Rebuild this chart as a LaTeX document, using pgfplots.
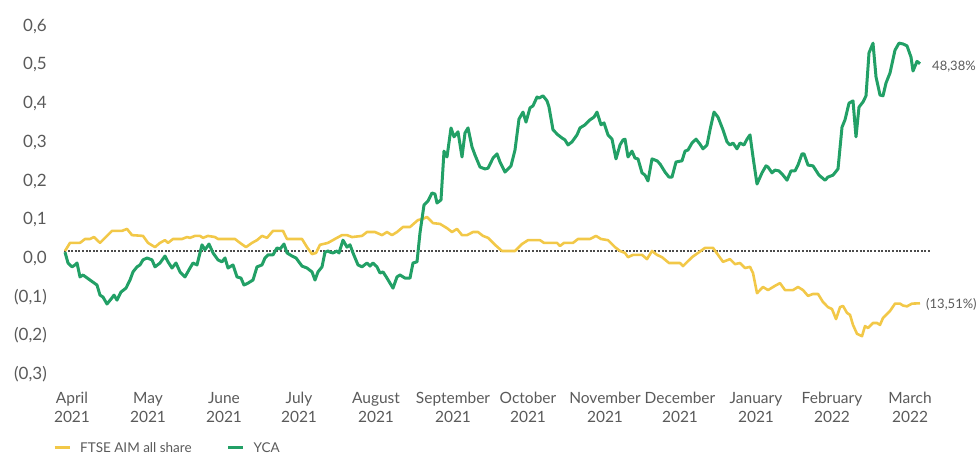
\documentclass[border=0pt]{standalone}
\usepackage{fontspec}
\setmainfont{Lato}
\usepackage{pgfplots}
\pgfplotsset{compat=1.18}
\definecolor{ycagreen}{RGB}{34,160,102}
\definecolor{ftseyellow}{RGB}{242,200,72}
\definecolor{txtgray}{RGB}{90,90,90}
\definecolor{dotgray}{RGB}{75,75,75}
\begin{document}
\begin{tikzpicture}
\begin{axis}[
  at={(60pt,79.16pt)}, anchor=south west,
  x=1pt, y=387pt,
  xmin=60, xmax=935, ymin=-0.32, ymax=0.62,
  clip=false,
  axis line style={draw=none},
  major tick length=0pt,
  xtick={72,148,224,299,376,453,528,605,680,756,832,910},
  xticklabels={{April\\2021},{May\\2021},{June\\2021},{July\\2021},{August\\2021},{September\\2021},{October\\2021},{November\\2021},{December\\2021},{January\\2021},{February\\2022},{March\\2022}},
  xticklabel style={anchor=north, inner sep=0pt, yshift=-17pt, align=center, font=\fontsize{15.5}{19.4}\selectfont, text=txtgray},
  ytick={-0.3,-0.2,-0.1,0,0.1,0.2,0.3,0.4,0.5,0.6},
  yticklabels={{(0,3)},{(0,2)},{(0,1)},{0,0},{0,1},{0,2},{0,3},{0,4},{0,5},{0,6}},
  yticklabel style={anchor=base east, inner sep=0pt, xshift=-13pt, yshift=-12.5pt, font=\fontsize{17}{20}\selectfont, text=txtgray},
  legend columns=2,
  legend style={draw=none, fill=none, at={(-0.008,-0.201)}, anchor=west, inner sep=0pt,
    font=\fontsize{13.5}{16}\selectfont, text=txtgray,
    nodes={inner sep=0pt},
    column sep=9pt,
    /tikz/every even column/.append style={column sep=35pt}},
  legend image code/.code={\draw[#1, line width=3pt] (0pt,0pt) -- (15pt,0pt);},
]
\addplot[dotgray, line width=2.2pt, dash pattern=on 2pt off 1.6pt, forget plot] coordinates {(64,0) (931,0)};

\addplot[ftseyellow, line width=2.6pt, line join=round] coordinates {
(65,0)(70,0.021)(80,0.021)(85,0.031)(90,0.031)(94,0.036)(100,0.021)(105,0.034)(112,0.052)(122,0.052)(127,0.057)(132,0.041)(143,0.039)(148,0.021)(155,0.010)(160,0.021)(165,0.028)(168,0.021)(173,0.031)(182,0.031)(187,0.036)(190,0.034)(195,0.039)(200,0.039)(203,0.034)(208,0.039)(215,0.036)(218,0.031)(235,0.031)(240,0.021)(246,0.010)(252,0.021)(257,0.028)(262,0.039)(267,0.034)(273,0.052)(283,0.052)(287,0.031)(302,0.031)(307,0.010)(312,-0.008)(316,-0.005)(320,0.016)(328,0.021)(337,0.034)(342,0.041)(347,0.041)(352,0.036)(362,0.039)(367,0.049)(375,0.049)(382,0.041)(387,0.049)(392,0.041)(397,0.049)(403,0.062)(410,0.062)(418,0.080)(423,0.083)(427,0.088)(433,0.072)(440,0.070)(447,0.059)(452,0.049)(457,0.057)(462,0.041)(467,0.041)(473,0.049)(478,0.049)(483,0.039)(488,0.034)(495,0.016)(502,0)(515,0)(522,0.018)(528,0.028)(540,0.028)(544,0.021)(557,0.021)(560,0.013)(564,0.021)(573,0.021)(578,0.031)(590,0.031)(596,0.039)(601,0.031)(608,0.028)(615,0.010)(620,0)(625,-0.005)(628,-0.016)(633,-0.010)(642,-0.010)(647,-0.021)(652,0)(657,-0.010)(662,-0.016)(669,-0.031)(680,-0.031)(683,-0.039)(692,-0.016)(698,-0.005)(705,0.008)(713,0.008)(718,-0.010)(723,-0.028)(730,-0.021)(735,-0.034)(740,-0.031)(745,-0.044)(750,-0.041)(753,-0.057)(757,-0.109)(763,-0.093)(768,-0.101)(775,-0.090)(780,-0.083)(785,-0.101)(793,-0.101)(798,-0.093)(803,-0.101)(808,-0.116)(813,-0.111)(818,-0.111)(823,-0.132)(828,-0.145)(832,-0.150)(836,-0.176)(840,-0.145)(843,-0.142)(847,-0.160)(850,-0.165)(853,-0.191)(857,-0.214)(862,-0.220)(865,-0.194)(868,-0.199)(873,-0.186)(877,-0.186)(880,-0.191)(883,-0.173)(890,-0.155)(895,-0.136)(900,-0.136)(903,-0.141)(907,-0.143)(912,-0.136)(920,-0.1351)
};
\addlegendentry{FTSE AIM all share}

\addplot[ycagreen, line width=3pt, line join=round] coordinates {
(65,-0.003)(68,-0.031)(72,-0.041)(75,-0.036)(77,-0.031)(80,-0.067)(83,-0.062)(90,-0.075)(97,-0.088)(100,-0.114)(103,-0.119)(107,-0.137)(112,-0.121)(114,-0.114)(117,-0.127)(121,-0.106)(126,-0.096)(130,-0.075)(133,-0.054)(137,-0.041)(140,-0.036)(143,-0.023)(147,-0.018)(152,-0.023)(155,-0.041)(160,-0.031)(165,-0.013)(168,-0.028)(172,-0.044)(176,-0.031)(180,-0.054)(185,-0.067)(190,-0.044)(193,-0.031)(197,-0.036)(202,0.016)(205,0.003)(209,0.018)(213,-0.005)(218,-0.023)(222,-0.028)(225,-0.018)(228,-0.044)(233,-0.036)(237,-0.067)(241,-0.070)(244,-0.088)(248,-0.083)(253,-0.075)(257,-0.041)(262,-0.036)(265,-0.018)(268,-0.010)(273,-0.010)(277,0.008)(280,0.005)(284,0.018)(287,-0.005)(292,-0.013)(296,-0.018)(302,-0.039)(307,-0.044)(312,-0.054)(315,-0.075)(318,-0.054)(322,-0.041)(325,-0.003)(328,0.000)(330,-0.003)(333,-0.005)(337,0.000)(339,-0.005)(343,0.028)(347,0.010)(350,0.016)(353,-0.005)(358,-0.036)(362,-0.041)(367,-0.031)(370,-0.039)(373,-0.031)(377,-0.041)(380,-0.057)(383,-0.054)(387,-0.070)(393,-0.096)(397,-0.067)(400,-0.062)(405,-0.070)(410,-0.070)(413,-0.031)(417,-0.028)(420,0.047)(424,0.119)(428,0.129)(432,0.150)(435,0.147)(437,0.124)(441,0.132)(444,0.258)(447,0.243)(451,0.318)(454,0.295)(458,0.308)(462,0.243)(465,0.305)(468,0.318)(472,0.269)(475,0.248)(480,0.217)(485,0.212)(488,0.214)(493,0.240)(497,0.251)(500,0.230)(505,0.204)(511,0.220)(515,0.261)(519,0.341)(523,0.359)(526,0.333)(530,0.370)(533,0.375)(537,0.398)(539,0.395)(543,0.401)(547,0.388)(549,0.372)(553,0.313)(558,0.300)(562,0.292)(565,0.287)(568,0.274)(572,0.282)(577,0.300)(580,0.318)(585,0.326)(590,0.339)(594,0.346)(597,0.359)(601,0.326)(604,0.331)(608,0.300)(612,0.289)(616,0.238)(620,0.274)(623,0.287)(625,0.289)(628,0.243)(632,0.258)(635,0.240)(638,0.238)(642,0.202)(645,0.196)(648,0.181)(652,0.238)(657,0.233)(660,0.225)(665,0.204)(669,0.191)(672,0.191)(676,0.230)(682,0.233)(685,0.258)(688,0.261)(692,0.279)(696,0.289)(700,0.276)(703,0.264)(707,0.274)(710,0.313)(714,0.359)(718,0.346)(723,0.313)(727,0.282)(730,0.274)(733,0.279)(737,0.264)(740,0.279)(744,0.274)(747,0.289)(750,0.300)(753,0.243)(757,0.173)(762,0.202)(766,0.220)(768,0.217)(772,0.202)(775,0.209)(779,0.207)(783,0.196)(787,0.183)(791,0.207)(795,0.207)(798,0.222)(802,0.251)(804,0.251)(808,0.222)(813,0.220)(819,0.196)(825,0.183)(828,0.191)(833,0.196)(838,0.212)(842,0.320)(845,0.339)(849,0.382)(853,0.388)(856,0.295)(859,0.372)(863,0.385)(866,0.401)(869,0.512)(873,0.537)(876,0.450)(880,0.403)(883,0.401)(886,0.434)(890,0.460)(895,0.519)(899,0.537)(903,0.535)(907,0.530)(911,0.501)(913,0.465)(917,0.490)(920,0.4838)
};
\addlegendentry{YCA}

\node[anchor=west, inner sep=0pt, xshift=12pt, yshift=-2.5pt, font=\fontsize{13}{15}\selectfont, text=txtgray] at (axis cs:920,0.4838) {48,38\%};
\node[anchor=west, inner sep=0pt, xshift=6pt, yshift=-1.5pt, font=\fontsize{13}{15}\selectfont, text=txtgray] at (axis cs:920,-0.1351) {(13,51\%)};
\end{axis}
\pgfresetboundingbox
\useasboundingbox (0,0) rectangle (977pt,454pt);
\end{tikzpicture}
\end{document}
